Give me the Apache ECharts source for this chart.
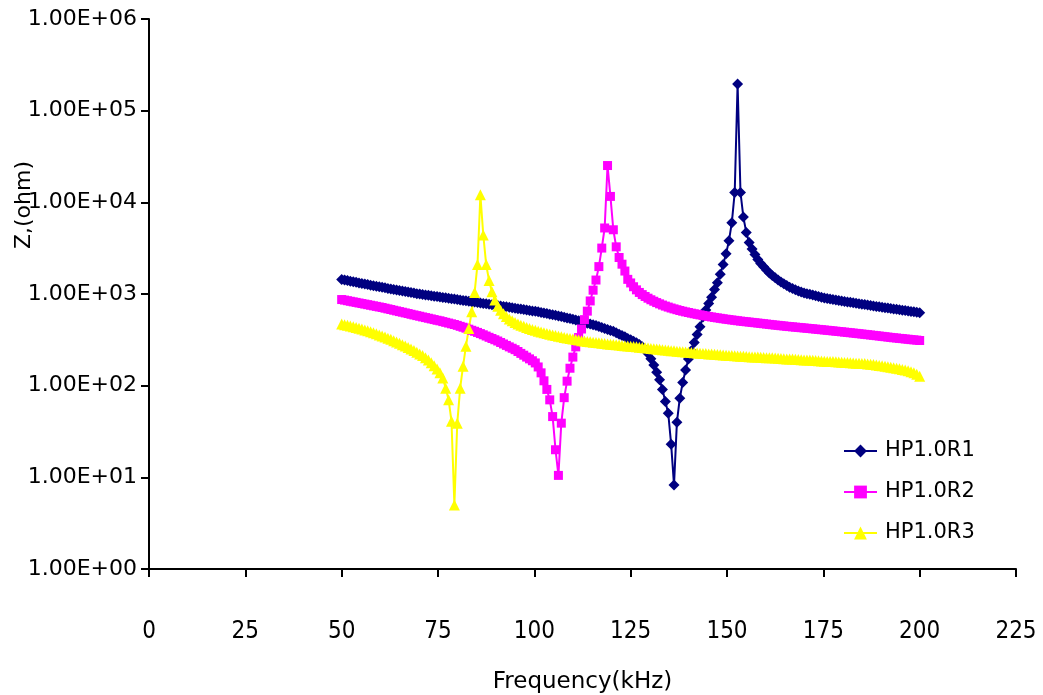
<!DOCTYPE html>
<html>
<head>
<meta charset="utf-8">
<title>Impedance vs frequency</title>
<script src="https://cdn.jsdelivr.net/npm/echarts@6/dist/echarts.min.js"></script>
<style>
  html, body { margin: 0; padding: 0; background: #ffffff; }
  #chart { width: 1043px; height: 695px; }
</style>
</head>
<body>
<div id="chart"></div>
<script>
// Sweep frequencies (kHz), 201 points from 50 to 200 kHz
const freqKHz = [
  50,50.75,51.5,52.25,53,53.75,54.5,55.25,56,56.75,57.5,58.25,59,59.75,60.5,61.25,62,62.75,63.5,64.25,
  65,65.75,66.5,67.25,68,68.75,69.5,70.25,71,71.75,72.5,73.25,74,74.75,75.5,76.25,77,77.75,78.5,79.25,
  80,80.75,81.5,82.25,83,83.75,84.5,85.25,86,86.75,87.5,88.25,89,89.75,90.5,91.25,92,92.75,93.5,94.25,
  95,95.75,96.5,97.25,98,98.75,99.5,100.25,101,101.75,102.5,103.25,104,104.75,105.5,106.25,107,107.75,108.5,109.25,
  110,110.75,111.5,112.25,113,113.75,114.5,115.25,116,116.75,117.5,118.25,119,119.75,120.5,121.25,122,122.75,123.5,124.25,
  125,125.75,126.5,127.25,128,128.75,129.5,130.25,131,131.75,132.5,133.25,134,134.75,135.5,136.25,137,137.75,138.5,139.25,
  140,140.75,141.5,142.25,143,143.75,144.5,145.25,146,146.75,147.5,148.25,149,149.75,150.5,151.25,152,152.75,153.5,154.25,
  155,155.75,156.5,157.25,158,158.75,159.5,160.25,161,161.75,162.5,163.25,164,164.75,165.5,166.25,167,167.75,168.5,169.25,
  170,170.75,171.5,172.25,173,173.75,174.5,175.25,176,176.75,177.5,178.25,179,179.75,180.5,181.25,182,182.75,183.5,184.25,
  185,185.75,186.5,187.25,188,188.75,189.5,190.25,191,191.75,192.5,193.25,194,194.75,195.5,196.25,197,197.75,198.5,199.25,
  200
];

// Impedance magnitude |Z| (ohm) for each sample
const zR1 = [
  1440,1420,1400,1380,1360,1341,1322,1304,1285,1267,1249,1232,1215,1197,1182,1167,1151,1136,1121,1107,
  1092,1078,1064,1050,1036,1023,1009,997,987,977,967,957,947,937,927,918,908,899,890,880,
  870,861,852,843,834,825,816,807,799,790,782,773,765,757,749,741,732,724,716,708,
  700,692,684,677,669,662,654,648,639,630,621,612,603,594,585,576,567,557,548,539,
  531,520,510,500,490,481,471,462,453,442,432,421,411,401,392,378,364,353,341,328,
  317,306,294,281,266,248,225,197,168,140,116,91,67,50,23,8.25,40,73,108,148,
  195,240,295,362,440,560,670,790,920,1120,1330,1640,2100,2750,3800,6000,12800,195000,12800,6900,
  4700,3650,3100,2700,2380,2150,1980,1830,1700,1590,1500,1420,1350,1290,1235,1185,1145,1110,1080,1052,
  1028,1009,991,973,955,937,920,903,892,881,870,859,849,839,829,820,811,801,792,783,
  774,766,757,748,740,732,725,717,710,702,695,688,680,673,666,659,652,645,639,632,
  625
];

const zR2 = [
  870,858,845,833,821,810,798,787,776,765,754,743,733,722,712,700,688,677,665,654,
  643,633,622,612,601,591,581,572,562,553,544,535,526,517,510,500,491,482,473,465,
  455,444,434,424,413,402,392,381,370,359,348,337,327,317,307,296,285,275,265,256,
  247,236,225,215,205,196,187,177,160,138,113,91,70,46,20,10.5,39,74,112,155,
  205,265,335,415,525,650,840,1100,1420,1990,3170,5250,25200,11600,5020,3270,2500,2115,1780,1445,
  1320,1200,1110,1040,985,940,900,865,834,806,781,758,738,720,703,688,674,661,649,638,
  628,618,609,600,592,584,576,569,562,555,549,543,537,531,526,521,516,511,506,502,
  498,494,490,486,482,478,474,470,466,462,458,455,451,448,444,441,438,435,432,429,
  426,423,420,417,414,411,408,405,402,399,396,393,390,387,384,381,378,375,372,369,
  366,363,360,357,354,351,348,345,342,339,336,333,331,328,326,323,321,318,316,314,
  311
];

const zR3 = [
  470,462,455,447,440,432,424,415,406,397,388,378,368,358,348,339,329,320,310,300,
  290,280,271,261,251,242,232,222,213,202,190,178,165,152,138,121,94,70,41,5,
  39,94,163,270,420,640,1040,2100,12100,4400,2100,1400,1060,860,735,665,610,568,535,510,
  490,472,457,444,432,421,411,402,393,385,378,371,364,358,352,346,341,336,331,326,
  322,318,314,310,307,304,301,298,295,293,290,288,285,283,281,279,277,275,273,271,
  269,267,265,263,261,259,257,255,253,251,249,247,245,243,241,240,238,236,234,233,
  231,230,229,227,226,225,224,222,221,220,219,218,216,215,214,213,212,211,210,209,
  208,207,206,206,205,204,203,202,201,201,200,199,198,197,196,196,195,194,193,192,
  191,191,190,189,188,187,186,185,184,184,183,182,181,180,179,179,178,177,176,176,
  175,174,172,171,170,168,166,165,163,161,159,157,155,153,150,148,145,142,138,133,
  127
];

const seriesNames = ['HP1.0R1', 'HP1.0R2', 'HP1.0R3'];
const xTicks = [0, 25, 50, 75, 100, 125, 150, 175, 200, 225];

const toPairs = (vals) => freqKHz.map((f, i) => [f, vals[i]]);

// Excel-style scientific labels: 1.00E+03
const sciLabel = (v) => {
  const e = Math.round(Math.log10(v));
  return '1.00E+' + (e < 10 ? '0' : '') + e;
};

const chart = echarts.init(document.getElementById('chart'), null, { renderer: 'canvas' });

const lineSeries = (name, vals, color, symbol, size) => ({
  name: name,
  type: 'line',
  data: toPairs(vals),
  symbol: symbol,
  symbolSize: size,
  showSymbol: true,
  showAllSymbol: true,
  lineStyle: { color: color, width: 2 },
  itemStyle: { color: color, borderWidth: 0 },
  emphasis: { disabled: true },
  clip: false
});

chart.setOption({
  animation: false,
  backgroundColor: '#ffffff',
  grid: { left: 149, right: 27, top: 19, bottom: 126, containLabel: false, outerBoundsMode: 'none' },
  xAxis: {
    type: 'value',
    min: xTicks[0],
    max: xTicks[xTicks.length - 1],
    interval: 25,
    name: 'Frequency(kHz)',
    nameLocation: 'middle',
    nameGap: 102,
    nameTextStyle: { fontFamily: 'DejaVu Sans', fontSize: 23, color: '#000' },
    axisLine: { lineStyle: { color: '#000', width: 2 } },
    axisTick: { show: true, inside: false, length: 8, lineStyle: { color: '#000', width: 2 } },
    axisLabel: {
      margin: 51,
      fontFamily: "'Liberation Sans Narrow', 'DejaVu Sans Condensed', sans-serif",
      fontSize: 24,
      color: '#000'
    },
    splitLine: { show: false }
  },
  yAxis: {
    type: 'log',
    logBase: 10,
    min: 1,
    max: 1000000,
    splitNumber: 6,
    axisLine: { show: true, lineStyle: { color: '#000', width: 2 } },
    axisTick: { show: true, inside: false, length: 8, lineStyle: { color: '#000', width: 2 } },
    axisLabel: {
      margin: 12,
      formatter: sciLabel,
      fontFamily: 'DejaVu Sans',
      fontSize: 22,
      color: '#000'
    },
    splitLine: { show: false },
    minorTick: { show: false }
  },
  legend: {
    data: seriesNames,
    orient: 'vertical',
    left: 838,
    top: 434,
    itemWidth: 33,
    itemHeight: 16,
    itemGap: 17,
    textStyle: { fontFamily: 'DejaVu Sans', fontSize: 21, lineHeight: 24, color: '#000', padding: [0, 0, 0, 3] }
  },
  graphic: [{
    type: 'text',
    x: 24,
    y: 205,
    rotation: Math.PI / 2,
    style: {
      text: 'Z,(ohm)',
      fontFamily: 'DejaVu Sans',
      fontSize: 22,
      fill: '#000',
      align: 'center',
      verticalAlign: 'middle'
    }
  }],
  series: [
    lineSeries(seriesNames[0], zR1, '#000080', 'diamond', 11),
    lineSeries(seriesNames[1], zR2, '#ff00ff', 'rect', 9),
    lineSeries(seriesNames[2], zR3, '#ffff00', 'triangle', 11)
  ]
});
</script>
</body>
</html>
